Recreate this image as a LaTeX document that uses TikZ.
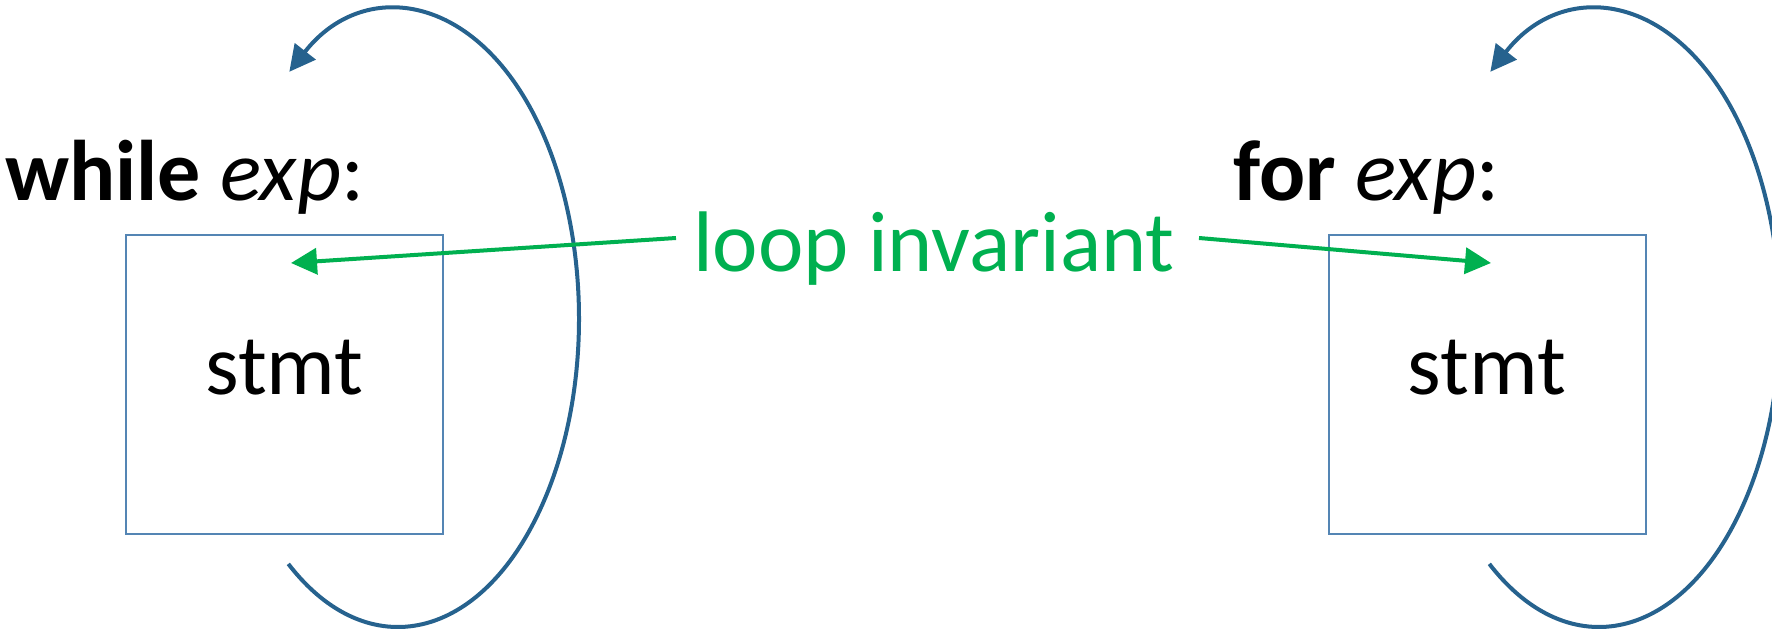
\documentclass[tikz,border=0pt]{standalone}
\usepackage{fontspec}
\setmainfont{Carlito}
\usetikzlibrary{arrows.meta,calc}
\definecolor{loopblue}{RGB}{38,98,142}
\definecolor{boxblue}{RGB}{84,133,180}
\definecolor{invgreen}{RGB}{0,176,80}
\begin{document}
\begin{tikzpicture}[x=0.5pt,y=-0.5pt,
  stmtbox/.style={draw=boxblue,line width=1pt,minimum width=158.5pt,minimum height=149.5pt,inner sep=0pt},
  codetext/.style={font=\fontsize{43}{50}\selectfont,inner sep=0pt,anchor=base west},
  stmttext/.style={font=\fontsize{43}{50}\selectfont,inner sep=0pt,anchor=base},
  invtext/.style={font=\fontsize{43}{50}\selectfont,text=invgreen,inner sep=0pt,anchor=base},
  looparc/.style={draw=loopblue,line width=2pt,-{Triangle[length=13pt,width=13pt]}},
  invarrow/.style={draw=invgreen,line width=2pt,-{Triangle[length=13pt,width=13pt]}},
]
\useasboundingbox (0,0) rectangle (1772,630);
% boxes
\node[stmtbox] (lbox) at (284.5,384.5) {};
\node[stmtbox] (rbox) at (1487,384.5) {};
% texts
\node[codetext] (while) at (5,201) {\textbf{while} \textit{exp}:};
\node[codetext] (for) at (1233,201) {\textbf{for} \textit{exp}:};
\node[stmttext] (lstmt) at (284.5,395) {stmt};
\node[stmttext] (rstmt) at (1487,395) {stmt};
\node[invtext] (inv) at (934,272) {loop invariant};
% loop arcs
\coordinate (lc) at (398,318.5);
\coordinate (rc) at (1599,318.5);
\draw[looparc] (lc) ++(-127.3:90.5pt and 154.25pt) arc[start angle=-127.3,end angle=126.9,x radius=90.5pt,y radius=154.25pt];
\draw[looparc] (rc) ++(-127.3:90.5pt and 154.25pt) arc[start angle=-127.3,end angle=126.9,x radius=90.5pt,y radius=154.25pt];
% invariant arrows
\coordinate (la) at (676,238);
\coordinate (ra) at (1199,238);
\coordinate (lt) at (291,263);
\coordinate (rt) at (1491,263);
\draw[invarrow] (la) -- (lt);
\draw[invarrow] (ra) -- (rt);
\end{tikzpicture}
\end{document}
